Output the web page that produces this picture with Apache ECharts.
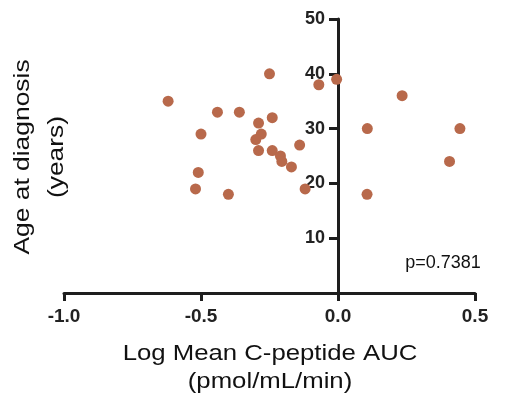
<!DOCTYPE html>
<html>
<head>
<meta charset="utf-8">
<script src="https://cdn.jsdelivr.net/npm/echarts@6/dist/echarts.min.js"></script>
<style>
  html, body { margin: 0; padding: 0; background: #fff; }
  #chart { width: 513px; height: 403px; }
</style>
</head>
<body>
<div id="chart"></div>
<script>
// log mean C-peptide AUC (x) vs age at diagnosis (y)
var logCpep = [-0.62, -0.25, -0.07, -0.005, -0.44, -0.36, -0.24, -0.29, -0.50, -0.28,
  -0.30, -0.14, -0.29, -0.24, -0.21, -0.205, -0.17, -0.51, -0.52, -0.40, -0.12,
  0.107, 0.234, 0.445, 0.407, 0.106];
var ageDx = [35, 40, 38, 39, 33, 33, 32, 31, 29, 29,
  28, 27, 26, 26, 25, 24, 23, 22, 19, 18, 19,
  30, 36, 30, 24, 18];
var xTicks = [-1.0, -0.5, 0.0, 0.5];
var yTicks = [10, 20, 30, 40, 50];
var xTitle = 'Log Mean C-peptide AUC\n(pmol/mL/min)';
var yTitle = 'Age at diagnosis\n(years)';
var pText = 'p=0.7381';

var pts = logCpep.map(function (x, i) { return [x, ageDx[i]]; });

var axisCol = '#1e1e1e';
var gridLeft = 64, gridRight = 38;
var chart = echarts.init(document.getElementById('chart'));
// y axis sits at x = 0, so shift it right by the pixel distance of 0 from the grid's left edge
var plotW = 513 - gridLeft - gridRight;
var yShift = plotW * (0 - (-1.0)) / (0.5 - (-1.0));

chart.setOption({
  animation: false,
  grid: { left: gridLeft, right: gridRight, top: 19, bottom: 110 },
  xAxis: {
    type: 'value', min: -1.0, max: 0.5, interval: 0.5,
    axisLine: { onZero: false, lineStyle: { color: axisCol, width: 3 } },
    axisTick: { show: true, length: 8, lineStyle: { color: axisCol, width: 3 } },
    axisLabel: {
      margin: 14, fontFamily: 'Liberation Sans', fontWeight: 'bold', fontSize: 19, color: '#222',
      formatter: function (v) { return xTicks.indexOf(+v.toFixed(1)) >= 0 ? v.toFixed(1) : ''; }
    },
    splitLine: { show: false }
  },
  yAxis: {
    type: 'value', min: 0, max: 50, interval: 10,
    position: 'left', offset: -yShift,
    axisLine: { onZero: false, lineStyle: { color: axisCol, width: 3 } },
    axisTick: { show: true, length: 9, lineStyle: { color: axisCol, width: 3 } },
    axisLabel: {
      margin: 13, fontFamily: 'Liberation Sans', fontWeight: 'bold', fontSize: 18, color: '#222',
      formatter: function (v) { return yTicks.indexOf(v) >= 0 ? String(v) : ''; }
    },
    splitLine: { show: false }
  },
  graphic: [
    {
      type: 'text', x: 270, y: 368, scaleX: 1.17,
      style: {
        text: xTitle, fontFamily: 'Liberation Sans', fontSize: 22,
        fill: '#111', align: 'center', verticalAlign: 'middle', lineHeight: 28
      }
    },
    {
      type: 'text', x: 40, y: 157, rotation: Math.PI / 2, scaleX: 1.2,
      style: {
        text: yTitle, fontFamily: 'Liberation Sans', fontSize: 22,
        fill: '#111', align: 'center', verticalAlign: 'middle', lineHeight: 34
      }
    },
    {
      type: 'text', x: 443, y: 263,
      style: {
        text: pText, fontFamily: 'Liberation Sans', fontSize: 18,
        fill: '#111', align: 'center', verticalAlign: 'middle'
      }
    }
  ],
  series: [{
    type: 'scatter',
    data: pts,
    symbolSize: 11,
    itemStyle: { color: '#b8694b', opacity: 1 }
  }]
});
</script>
</body>
</html>
